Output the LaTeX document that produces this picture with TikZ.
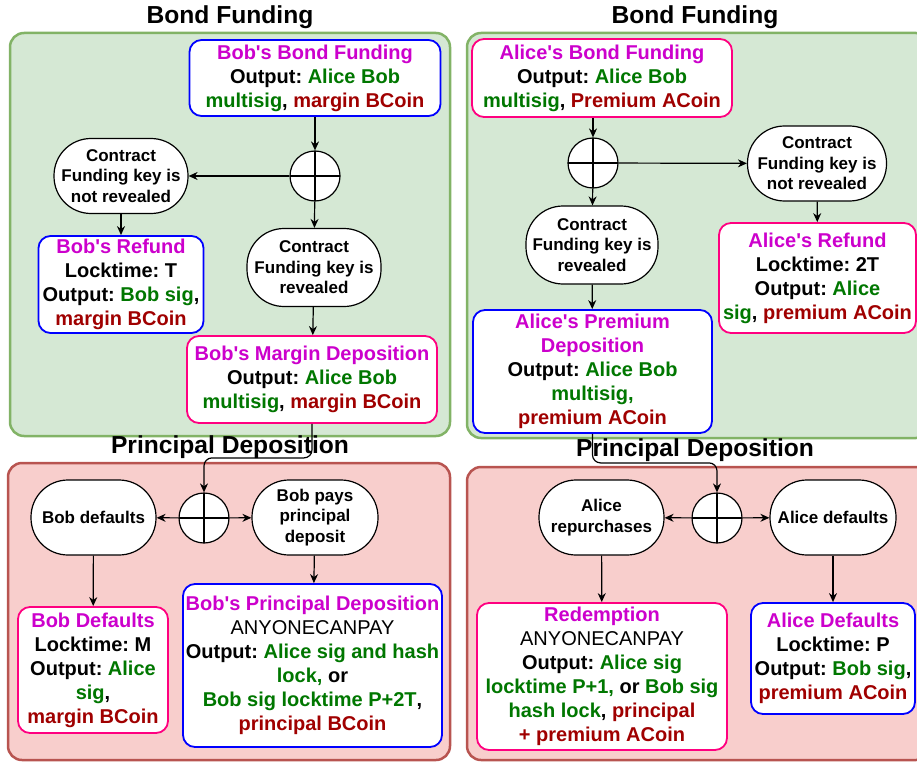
\documentclass[tikz,border=0pt]{standalone}
\usepackage{fontspec}
\setmainfont{Liberation Sans}
\usetikzlibrary{arrows.meta}

\definecolor{ttlmag}{HTML}{CC00CC}
\definecolor{sgngreen}{HTML}{007700}
\definecolor{coinred}{HTML}{A00000}
\definecolor{boxblue}{HTML}{0000FF}
\definecolor{boxpink}{HTML}{FF0080}
\definecolor{bondfill}{HTML}{D5E8D4}
\definecolor{bondline}{HTML}{82B366}
\definecolor{depofill}{HTML}{F8CECC}
\definecolor{depoline}{HTML}{B85450}

\newcommand{\ttl}[1]{\textcolor{ttlmag}{#1}}
\newcommand{\sgn}[1]{\textcolor{sgngreen}{#1}}
\newcommand{\coin}[1]{\textcolor{coinred}{#1}}
\frenchspacing

\begin{document}
\begin{tikzpicture}[->,>={Stealth[length=9pt,width=8pt]},x=1pt,y=-1pt,line width=1.2pt,
  tx/.style={draw,rectangle,rounded corners=12pt,fill=white,line width=1.8pt,align=center,inner sep=2pt,font=\fontsize{20}{24}\selectfont\bfseries},
  bluetx/.style={tx,draw=boxblue},
  pinktx/.style={tx,draw=boxpink},
  cond/.style={draw,rectangle,rounded corners=37pt,fill=white,align=center,inner sep=2pt,font=\fontsize{17}{20.5}\selectfont\bfseries},
  orgate/.style={draw,circle,fill=white,minimum size=50pt,inner sep=0pt,
    path picture={\draw[-,line width=1.2pt] (path picture bounding box.north) -- (path picture bounding box.south)
      (path picture bounding box.west) -- (path picture bounding box.east);}},
  panel/.style={rounded corners=14pt,line width=2.5pt},
  hdr/.style={font=\fontsize{24.6}{29}\selectfont\bfseries}
]

\useasboundingbox (0,0) rectangle (917,762);

% panels
\draw [-,panel,fill=bondfill,draw=bondline] (10,33) rectangle (450,436);
\draw [-,panel,fill=bondfill,draw=bondline] (467,33) rectangle (930,438);
\draw [-,panel,fill=depofill,draw=depoline] (8,463) rectangle (450,760);
\draw [-,panel,fill=depofill,draw=depoline] (467,467) rectangle (930,760);

\node (hdrBL) [hdr] at (230,17) {Bond Funding};
\node (hdrBR) [hdr] at (695,17) {Bond Funding};
\node (hdrPL) [hdr] at (230,447) {Principal Deposition};
\node (hdrPR) [hdr] at (695,450) {Principal Deposition};

% Bob, bond funding
\node (bobfund) [bluetx, minimum width=251pt, minimum height=76pt] at (315,78)
  {\ttl{Bob\textquotesingle s Bond Funding}\\ Output: \sgn{Alice Bob}\\ \sgn{multisig}, \coin{margin BCoin}};
\node (orB1) [orgate] at (315,176) {};
\node (notrevB) [cond, minimum width=134pt, minimum height=75pt] at (121,176)
  {Contract\\ Funding key is\\ not revealed};
\node (bobrefund) [bluetx, minimum width=165pt, minimum height=97pt] at (121,284.5)
  {\ttl{Bob\textquotesingle s Refund}\\ Locktime: T\\ Output: \sgn{Bob sig},\\ \coin{margin BCoin}};
\node (revB) [cond, minimum width=134pt, minimum height=78pt] at (314,267.5)
  {Contract\\ Funding key is\\ revealed};
\node (bobmargin) [pinktx, minimum width=250pt, minimum height=87pt] at (312,379.5)
  {\ttl{Bob\textquotesingle s Margin Deposition}\\ Output: \sgn{Alice Bob}\\ \sgn{multisig}, \coin{margin BCoin}};

% Alice, bond funding
\node (alicefund) [pinktx, minimum width=260pt, minimum height=78pt] at (602,78)
  {\ttl{Alice\textquotesingle s Bond Funding}\\ Output: \sgn{Alice Bob}\\ \sgn{multisig}, \coin{Premium ACoin}};
\node (orA1) [orgate] at (593,163) {};
\node (notrevA) [cond, minimum width=139pt, minimum height=75pt] at (817,163.5)
  {Contract\\ Funding key is\\ not revealed};
\node (alicerefund) [pinktx, minimum width=197pt, minimum height=110pt] at (817.5,278)
  {\ttl{Alice\textquotesingle s Refund}\\ Locktime: 2T\\ Output: \sgn{Alice}\\ \sgn{sig}, \coin{premium ACoin}};
\node (revA) [cond, minimum width=132pt, minimum height=78pt] at (592,245)
  {Contract\\ Funding key is\\ revealed};
\node (alicepremium) [bluetx, minimum width=239pt, minimum height=123pt] at (592.5,371.5)
  {\ttl{Alice\textquotesingle s Premium}\\ \ttl{Deposition}\\ Output: \sgn{Alice Bob}\\ \sgn{multisig,}\\ \coin{premium ACoin}};

% Bob, principal deposition
\node (orB2) [orgate] at (204,518) {};
\node (bobdef) [cond, minimum width=125pt, minimum height=75pt] at (93.5,517.5) {Bob defaults};
\node (bobpays) [cond, minimum width=126pt, minimum height=75pt] at (315,517.5)
  {Bob pays\\ principal\\ deposit};
\node (bobdefaults) [pinktx, minimum width=150pt, minimum height=126pt] at (93,670)
  {\ttl{Bob Defaults}\\ Locktime: M\\ Output: \sgn{Alice}\\ \sgn{sig},\\ \coin{margin BCoin}};
\node (bobprincipal) [bluetx, minimum width=259pt, minimum height=163pt] at (312.5,665.5)
  {\ttl{Bob\textquotesingle s Principal Deposition}\\ {\mdseries ANYONECANPAY}\\ Output: \sgn{Alice sig and hash}\\ \sgn{lock,} or\\ \sgn{Bob sig locktime P+2T},\\ \coin{principal BCoin}};

% Alice, principal deposition
\node (orA2) [orgate] at (717,518) {};
\node (alicerep) [cond, minimum width=125pt, minimum height=75pt] at (601.5,517.5)
  {Alice\\ repurchases};
\node (alicedef) [cond, minimum width=126pt, minimum height=75pt] at (833,517.5) {Alice defaults};
\node (redemption) [pinktx, minimum width=250pt, minimum height=147pt] at (602,676.5)
  {\ttl{Redemption}\\ {\mdseries ANYONECANPAY}\\ Output: \sgn{Alice sig}\\ \sgn{locktime P+1,} or \sgn{Bob sig}\\ \sgn{hash lock}, \coin{principal}\\ \coin{+ premium ACoin}};
\node (alicedefaults) [bluetx, minimum width=164pt, minimum height=111pt] at (833,658.5)
  {\ttl{Alice Defaults}\\ Locktime: P\\ Output: \sgn{Bob sig},\\ \coin{premium ACoin}};

\path [->]
    (bobfund) edge (orB1)
    (orB1) edge (notrevB)
    (orB1) edge (revB)
    (notrevB) edge (bobrefund)
    (revB) edge (bobmargin)
    (orA1 |- alicefund.south) edge (orA1)
    (orA1) edge (notrevA)
    (orA1) edge (revA)
    (notrevA) edge (alicerefund)
    (revA) edge (alicepremium)
    (orB2) edge (bobdef)
    (orB2) edge (bobpays)
    (bobdef) edge (bobdefaults)
    (bobpays) edge (bobprincipal)
    (orA2) edge (alicerep)
    (orA2) edge (alicedef)
    (alicerep) edge (redemption)
    (alicedef) edge (alicedefaults)
;

\draw [rounded corners=8pt] (bobmargin.south) -- ++(0,34) -| (orB2.north);
\draw [rounded corners=8pt] (alicepremium.south) -- ++(0,29) -| (orA2.north);

\end{tikzpicture}
\end{document}
